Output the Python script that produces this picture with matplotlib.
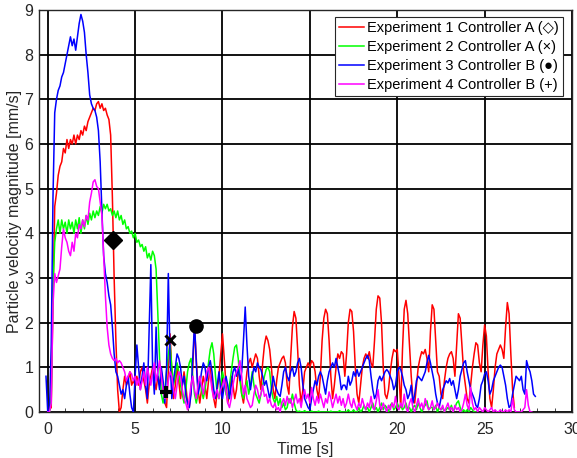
import numpy as np
import matplotlib
matplotlib.use("Agg")
import matplotlib.pyplot as plt
from matplotlib.ticker import MultipleLocator

plt.rcParams['font.family'] = ['Liberation Sans', 'DejaVu Sans']

# sample spacing of the logged velocity [s]
dt = 0.1

# Experiment 1, controller A (starts t=0.0)
t0_exp1 = 0.0
v_exp1 = [
    0.0, 0.05, 0.1, 2.5, 4.6, 4.9, 5.3, 5.5, 5.6, 5.9,
    5.8, 6.1, 5.9, 6.1, 6.0, 6.2, 6.0, 6.2, 6.1, 6.3,
    6.2, 6.4, 6.3, 6.5, 6.6, 6.7, 6.8, 6.75, 6.9, 6.95,
    6.8, 6.9, 6.75, 6.8, 6.65, 6.55, 6.2, 4.8, 3.0, 1.6,
    0.5, 0.0, 0.1, 0.5, 0.8, 0.6, 0.7, 0.9, 0.6, 0.7,
    0.6, 0.8, 0.6, 0.9, 1.0, 0.7, 0.5, 0.2, 0.6, 0.8,
    1.0, 0.7, 0.5, 0.8, 0.6, 0.9, 0.5, 0.2, 0.1, 0.9,
    1.75, 0.9, 0.3, 0.6, 1.0, 0.7, 0.3, 0.6, 0.9, 0.6,
    0.2, 0.1, 0.5, 1.0, 1.9, 1.2, 0.5, 0.2, 0.5, 0.8,
    0.6, 0.3, 0.7, 1.0, 0.6, 0.3, 0.1, 0.5, 0.8, 1.3,
    1.75, 1.2, 0.6, 0.2, 0.4, 0.8, 0.6, 0.3, 0.5, 0.9,
    0.8, 0.4, 0.2, 0.5, 0.9, 1.1, 1.2, 1.0, 1.15, 1.3,
    1.2, 0.8, 0.5, 1.1, 1.5, 1.7, 1.6, 1.4, 1.0, 0.5,
    0.3, 0.7, 1.0, 1.1, 1.2, 1.25, 1.1, 0.6, 0.4, 1.2,
    1.9, 2.25, 2.1, 1.4, 0.6, 0.2, 0.5, 0.9, 1.0, 1.1,
    1.0, 1.15, 1.1, 0.9, 0.5, 0.3, 0.8, 1.6, 2.1, 2.3,
    2.2, 1.6, 0.8, 0.3, 0.6, 1.0, 1.3, 1.2, 1.35, 1.3,
    0.8, 1.3, 2.0, 2.3, 2.25, 1.8, 1.0, 0.4, 0.2, 0.6,
    1.0, 1.2, 1.3, 1.2, 1.35, 1.1, 1.0, 1.6, 2.3, 2.6,
    2.55, 2.0, 1.0, 0.4, 0.3, 0.5, 0.9, 1.2, 1.4, 1.35,
    1.4, 0.8, 0.1, 1.4, 2.3, 2.5, 2.2, 1.5, 0.8, 0.3,
    0.2, 0.6, 1.0, 1.2, 1.35, 1.3, 1.4, 1.2, 0.9, 1.8,
    2.4, 2.3, 1.6, 0.9, 0.8, 0.4, 0.3, 0.7, 1.0, 1.2,
    1.3, 1.35, 1.2, 0.8, 1.5, 2.2, 2.1, 1.5, 0.9, 0.6,
    0.3, 0.2, 0.6, 1.0, 1.3, 1.55, 1.5, 1.1, 0.9, 1.5,
    1.95, 1.7, 0.9, 0.3, 0.1, 0.5, 1.0, 1.3, 1.4, 1.5,
    1.4, 1.2, 1.9, 2.45, 2.2, 1.3, 0.5, 0.1,
]

# Experiment 2, controller A (starts t=0.0)
t0_exp2 = 0.0
v_exp2 = [
    0.0, 0.0, 0.3, 2.8, 3.8, 4.1, 4.3, 4.0, 4.3, 4.1,
    4.25, 4.0, 4.3, 4.1, 4.25, 4.0, 4.3, 4.1, 4.35, 4.0,
    4.3, 4.1, 4.4, 4.2, 4.45, 4.3, 4.5, 4.35, 4.5, 4.4,
    4.6, 4.45, 4.65, 4.55, 4.65, 4.5, 4.55, 4.4, 4.5, 4.35,
    4.5, 4.3, 4.4, 4.2, 4.3, 4.1, 4.15, 4.0, 4.05, 3.9,
    4.0, 3.8, 3.85, 3.7, 3.75, 3.6, 3.7, 3.45, 3.55, 3.4,
    3.6, 3.5, 3.2, 2.2, 1.2, 0.4, 0.2, 0.5, 0.9, 1.3,
    1.5, 1.0, 0.6, 0.8, 1.1, 0.9, 0.6, 0.4, 0.2, 0.5,
    0.9, 1.1, 1.2, 0.8, 0.4, 0.2, 0.4, 0.7, 0.5, 0.3,
    0.5, 0.8, 1.1, 1.4, 1.55, 1.3, 0.8, 0.4, 0.3, 0.6,
    0.9, 0.7, 0.4, 0.3, 0.6, 0.9, 1.2, 1.45, 1.5, 1.2,
    0.7, 0.4, 0.3, 0.5, 0.7, 0.4, 0.6, 0.9, 0.6, 0.4,
    0.3, 0.2, 0.4, 0.6, 0.8, 0.95, 1.0, 0.9, 0.5, 0.3,
    0.2, 0.35, 0.15, 0.3, 0.1, 0.2, 0.05, 0.1, 0.3, 0.2,
    0.4, 0.2, 0.05, 0.0, 0.02, 0.0, 0.0, 0.03, 0.0, 0.0,
    0.0, 0.02, 0.0, 0.0, 0.0, 0.02, 0.0, 0.0, 0.0, 0.0,
    0.0, 0.0, 0.02, 0.0, 0.0, 0.0, 0.0, 0.03, 0.0, 0.0,
    0.0, 0.0, 0.05, 0.0, 0.0, 0.05, 0.0, 0.0, 0.1, 0.0,
    0.05, 0.15, 0.05, 0.1, 0.0, 0.1, 0.2, 0.05, 0.1, 0.0,
    0.1, 0.2, 0.05, 0.15, 0.1, 0.0, 0.15, 0.2, 0.05, 0.1,
    0.2, 0.1, 0.15, 0.05, 0.1, 0.2, 0.05, 0.1, 0.0, 0.1,
    0.15, 0.05, 0.2, 0.1, 0.0, 0.1, 0.15, 0.25, 0.05, 0.1,
    0.1, 0.05, 0.15, 0.0, 0.1, 0.05, 0.1, 0.0, 0.05, 0.1,
    0.05, 0.15, 0.0, 0.1, 0.2, 0.25, 0.1, 0.0, 0.05, 0.0,
    0.05, 0.0, 0.1, 0.05, 0.0, 0.0,
]

# Experiment 3, controller B (starts t=-0.1)
t0_exp3 = -0.1
v_exp3 = [
    0.8, 0.0, 0.05, 1.5, 4.8, 6.7, 7.0, 7.2, 7.3, 7.5,
    7.6, 7.8, 8.0, 8.2, 8.4, 8.2, 8.35, 8.1, 8.4, 8.7,
    8.9, 8.75, 8.5, 8.0, 7.6, 7.1, 6.9, 6.8, 6.75, 6.6,
    6.3, 5.6, 4.5, 3.5, 3.1, 2.9, 2.6, 2.4, 1.9, 1.3,
    0.9, 0.8, 0.6, 0.4, 0.5, 0.3, 0.6, 0.8, 0.4, 0.1,
    0.0, 0.8, 1.5, 1.0, 0.5, 0.8, 1.1, 0.6, 0.3, 1.8,
    3.3, 1.0, 0.4, 1.9, 0.8, 0.5, 1.0, 0.7, 0.2, 1.0,
    3.1, 1.2, 0.3, 0.7, 1.0, 1.3, 1.2, 1.0, 0.6, 0.8,
    0.4, 0.2, 0.1, 0.4, 1.2, 2.0, 1.1, 0.4, 0.6, 0.9,
    1.1, 1.0, 0.7, 1.0, 1.15, 0.9, 0.5, 0.3, 0.6, 0.9,
    0.5, 0.3, 0.6, 0.8, 0.6, 0.3, 0.6, 0.9, 1.0, 0.8,
    1.0, 0.7, 0.9, 1.6, 2.35, 1.5, 0.8, 0.5, 0.8, 1.0,
    0.9, 1.1, 1.0, 0.95, 0.8, 0.6, 0.7, 0.5, 0.3, 0.5,
    0.8, 0.6, 0.5, 0.4, 0.35, 0.6, 0.9, 1.0, 0.8, 0.7,
    0.9, 1.0, 0.8, 0.9, 1.1, 1.2, 1.0, 0.6, 0.3, 0.2,
    0.1, 0.05, 0.3, 0.5, 0.7, 0.6, 0.8, 0.9, 0.8, 0.6,
    0.4, 0.7, 0.9, 1.0, 1.1, 1.0, 1.2, 1.0, 0.8, 0.5,
    0.6, 0.6, 0.5, 0.8, 0.6, 0.7, 0.9, 0.8, 0.95, 0.8,
    0.9, 1.0, 1.1, 1.2, 1.27, 1.15, 0.8, 0.5, 0.3, 0.4,
    0.7, 0.8, 0.7, 0.8, 0.9, 0.95, 0.9, 0.8, 0.7, 0.5,
    0.6, 0.9, 1.0, 0.95, 0.8, 0.6, 0.5, 0.3, 0.4, 0.6,
    0.2, 0.4, 0.7, 0.8, 0.75, 0.7, 0.8, 0.9, 1.1, 1.27,
    1.1, 0.9, 0.7, 0.4, 0.2, 0.1, 0.3, 0.5, 0.6, 0.7,
    0.65, 0.75, 0.6, 0.7, 0.5, 0.3, 0.5, 0.8, 0.95, 1.1,
    1.15, 0.9, 0.7, 0.5, 0.4, 0.3, 0.15, 0.1, 0.3, 0.6,
    0.7, 0.85, 0.9, 0.7, 0.4, 0.5, 0.7, 0.8, 0.9, 1.0,
    1.05, 1.0, 0.8, 0.6, 0.3, 0.1, 0.15, 0.4, 0.6, 0.8,
    0.75, 0.7, 0.8, 0.5, 0.4, 1.15, 1.0, 0.9, 0.7, 0.4,
    0.35,
]

# Experiment 4, controller B (starts t=0.0)
t0_exp4 = 0.0
v_exp4 = [
    0.0, 0.0, 0.2, 2.4, 3.1, 2.9, 3.05, 3.2, 3.7, 4.1,
    3.9, 3.8, 3.6, 3.5, 3.8, 3.6, 4.0, 3.9, 4.2, 4.1,
    4.3, 4.15, 4.4, 4.3, 4.7, 4.9, 5.15, 5.2, 5.05, 5.0,
    4.7, 4.4, 3.5, 2.6, 1.9, 1.5, 1.3, 1.2, 1.15, 1.2,
    1.1, 1.15, 1.1, 1.0, 0.9, 0.7, 0.8, 0.9, 0.85, 0.7,
    0.8, 0.6, 0.75, 0.5, 0.7, 0.9, 0.6, 1.0, 0.8, 0.6,
    0.9, 1.1, 0.7, 0.9, 1.15, 0.8, 0.5, 0.3, 0.4, 0.7,
    0.9, 0.8, 0.5, 0.3, 0.6, 0.9, 0.8, 0.5, 0.3, 0.2,
    0.05, 0.3, 0.6, 0.8, 0.5, 0.3, 0.6, 0.8, 0.6, 0.4,
    0.7, 0.9, 1.0, 0.8, 0.5, 0.3, 0.4, 0.5, 0.3, 0.5,
    0.6, 0.75, 0.5, 0.2, 0.1, 0.3, 0.6, 0.8, 0.9, 1.0,
    1.15, 0.8, 0.4, 0.6, 0.3, 0.2, 0.1, 0.15, 0.4, 0.6,
    0.5, 0.3, 0.4, 0.6, 0.35, 0.4, 0.2, 0.3, 0.15, 0.1,
    0.2, 0.05, 0.1, 0.0, 0.2, 0.3, 0.15, 0.35, 0.2, 0.3,
    0.1, 0.25, 0.4, 0.2, 0.3, 0.1, 0.35, 0.5, 0.3, 0.4,
    0.2, 0.55, 0.3, 0.15, 0.35, 0.2, 0.4, 0.25, 0.1, 0.3,
    0.2, 0.45, 0.3, 0.1, 0.25, 0.4, 0.2, 0.35, 0.15, 0.3,
    0.1, 0.2, 0.4, 0.2, 0.1, 0.3, 0.15, 0.05, 0.2, 0.1,
    0.3, 0.15, 0.05, 0.2, 0.1, 0.35, 0.1, 0.05, 0.25, 0.5,
    0.15, 0.05, 0.2, 0.1, 0.0, 0.15, 0.05, 0.2, 0.1, 0.35,
    0.1, 0.05, 0.2, 0.1, 0.4, 0.1, 0.0, 0.2, 0.3, 0.1,
    0.0, 0.15, 0.3, 0.1, 0.2, 0.05, 0.3, 0.15, 0.05, 0.1,
    0.25, 0.05, 0.1, 0.2, 0.1, 0.05, 0.15, 0.0, 0.1, 0.2,
    0.05, 0.1, 0.0, 0.15, 0.05, 0.1, 0.0, 0.05, 0.2, 0.4,
    0.15, 0.05, 0.55, 0.2, 0.05, 0.1, 0.0, 0.1, 0.05, 0.0,
    0.1, 0.05, 0.0, 0.05, 0.1, 0.0, 0.05, 0.0, 0.0, 0.05,
    0.0, 0.0, 0.05, 0.0, 0.05, 0.0, 0.3, 0.05, 0.0, 0.0,
    0.0, 0.0, 0.05, 0.1, 0.5, 0.15, 0.0, 0.0,
]

labels = [
    'Experiment 1 Controller A (\u25c7)',
    'Experiment 2 Controller A (\u00d7)',
    'Experiment 3 Controller B (\u25cf)',
    'Experiment 4 Controller B (+)',
]
colors = ['#ff0000', '#00ff00', '#0000ff', '#ff00ff']

# black event markers: (time, value)
mark_diamond = (3.75, 3.85)
mark_cross = (7.0, 1.62)
mark_dot = (8.5, 1.93)
mark_plus = (6.75, 0.45)

fig = plt.figure(figsize=(5.77, 4.58), dpi=100)
ax = fig.add_axes([39 / 577, 1 - 412 / 458, 533 / 577, 402 / 458])

series = [(t0_exp1, v_exp1), (t0_exp2, v_exp2), (t0_exp3, v_exp3), (t0_exp4, v_exp4)]
for (t0, v), c, lab in zip(series, colors, labels):
    t = t0 + dt * np.arange(len(v))
    ax.plot(t, v, color=c, lw=1.1, label=lab, zorder=3)

ax.plot(*mark_diamond, marker='D', ms=9, color='k', ls='none', zorder=5)
ax.plot(*mark_cross, marker='x', ms=7, mew=2.2, color='k', ls='none', zorder=5)
ax.plot(*mark_dot, marker='o', ms=9.5, color='k', ls='none', zorder=5)
ax.plot(*mark_plus, marker='+', ms=8, mew=3, color='k', ls='none', zorder=5)

ax.set_xlim(-0.5, 30)
ax.set_ylim(0, 9)
ax.set_xticks(np.arange(0, 31, 5))
ax.set_yticks(np.arange(0, 10, 1))
ax.xaxis.set_minor_locator(MultipleLocator(1))
ax.grid(True, which='major', color='k', lw=1.3, zorder=1)
ax.tick_params(which='both', direction='in', labelsize=11.5, colors='#262626',
               top=False, right=False)
ax.tick_params(which='major', length=0)
ax.tick_params(axis='y', which='major', pad=4)
ax.tick_params(axis='x', which='major', pad=7)
ax.tick_params(which='minor', length=3)
for s in ax.spines.values():
    s.set_color('#262626')
    s.set_linewidth(1.0)

ax.set_xlabel('Time [s]', fontsize=11.5, color='#262626', labelpad=4)
ax.set_ylabel('Particle velocity magnitude [mm/s]', fontsize=11.5, color='#262626', labelpad=2)

leg = ax.legend(loc='upper right', bbox_to_anchor=(0.983, 0.983), borderaxespad=0,
                fontsize=10.5, handlelength=1.7, handletextpad=0.2,
                labelspacing=0.35, borderpad=0.28, fancybox=False, framealpha=1)
leg.get_frame().set_edgecolor('#262626')
leg.get_frame().set_linewidth(0.8)

fig.savefig('out.png', dpi=100)
